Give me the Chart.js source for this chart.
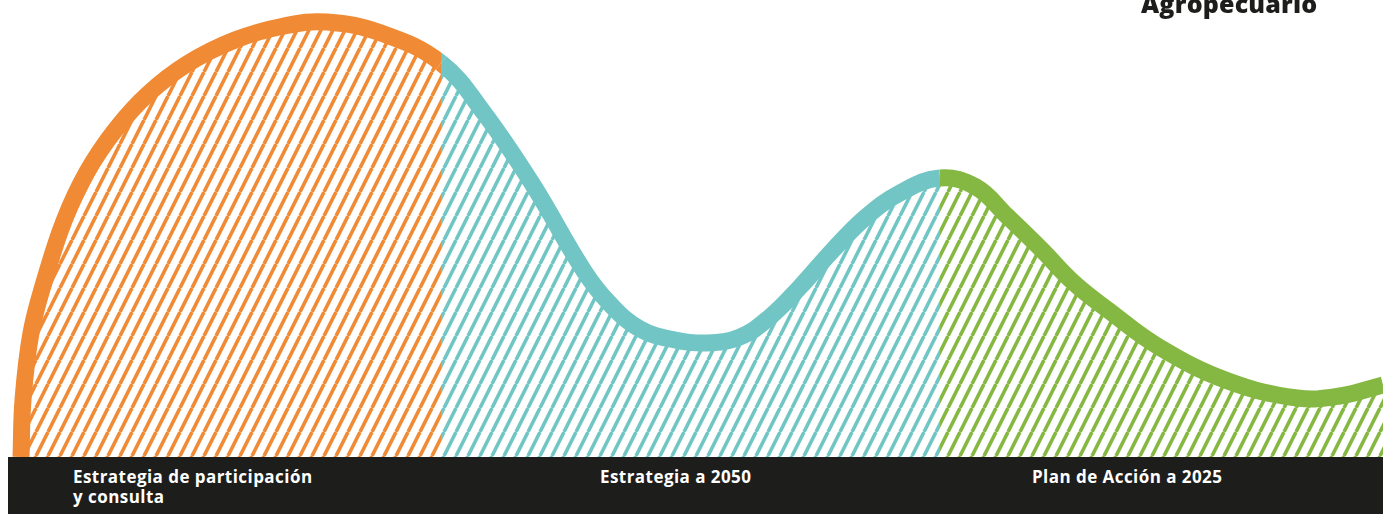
<!DOCTYPE html>
<html lang="es">

<head>
    <meta charset="UTF-8">
    <title>Agropecuario</title>
    <script src="https://cdn.jsdelivr.net/npm/chart.js@4.4.1/dist/chart.umd.min.js"></script>
    <style>
        body { margin: 0; background: #fff; }
        .wrap { position: relative; width: 1383px; height: 514px; overflow: hidden; }
        canvas { position: absolute; left: 0; top: 0; }
        .titulo {
            position: absolute; left: 1141px; top: -14px;
            font-family: "Open Sans", sans-serif; font-weight: 800; font-size: 25px;
            color: #1d1d1b; letter-spacing: 0.2px;
        }
        .barra {
            position: absolute; left: 8px; top: 457px; width: 1375px; height: 57px;
            background: #1d1d1b;
        }
        .etiqueta {
            position: absolute; top: 467px;
            font-family: "Open Sans", sans-serif; font-weight: 700; font-size: 17px;
            letter-spacing: 0.45px; line-height: 20px; color: #fff; white-space: pre;
        }
    </style>
</head>

<body>
    <div class="wrap">
        <canvas id="canvas_grafico" width="1383" height="514"></canvas>
        <div class="titulo">Agropecuario</div>
        <div class="barra"></div>
        <div class="etiqueta" id="et0" style="left:73px"></div>
        <div class="etiqueta" id="et1" style="left:600px"></div>
        <div class="etiqueta" id="et2" style="left:1032px"></div>
    </div>
</body>
</html>
<script>
    // etapas y curva (x a lo largo del eje, y = altura sobre la barra)
    const etapas = ['Estrategia de participación\ny consulta', 'Estrategia a 2050', 'Plan de Acción a 2025'];
    const inicioEtapa = [21, 441, 940];
    const colores = ['#f08a34', '#71c5c4', '#84b842'];

    const curvaX = [21, 23, 31, 45, 64, 87, 116, 148, 187, 235, 284, 327, 381, 441,
        484, 533, 584, 610, 640, 675, 707, 740, 770, 800, 833, 866, 900, 940,
        976, 1007, 1041, 1074, 1108, 1159, 1228, 1297, 1340, 1383];
    const curvaY = [0, 57, 124, 178, 236, 285, 328, 363, 393, 417, 431, 435, 424, 394,
        344, 272, 186, 153, 128, 117, 114, 120, 140, 170, 207, 240, 264, 279,
        270, 241, 208, 174, 147, 110, 76, 59, 61, 72];

    etapas.forEach((t, i) => { document.getElementById('et' + i).textContent = t; });

    function rayado(color) {
        const c = document.createElement('canvas');
        c.width = 12; c.height = 24;
        const g = c.getContext('2d');
        g.fillStyle = '#ffffff';
        g.fillRect(0, 0, 12, 24);
        g.strokeStyle = color;
        g.lineWidth = 3.6;
        for (let k = -1; k <= 1; k++) {
            g.beginPath();
            g.moveTo(k * 12, 24);
            g.lineTo(k * 12 + 12, 0);
            g.stroke();
        }
        return g.createPattern(c, 'repeat');
    }
    const patrones = colores.map(rayado);

    function etapaDe(x) {
        let i = 0;
        while (i + 1 < inicioEtapa.length && x >= inicioEtapa[i + 1]) i++;
        return i;
    }

    function gradienteLinea(context) {
        const chart = context.chart;
        if (!chart.chartArea) return colores[0];
        const sx = chart.scales.x;
        const x0 = sx.getPixelForValue(sx.min), x1 = sx.getPixelForValue(sx.max);
        const grad = chart.ctx.createLinearGradient(x0, 0, x1, 0);
        for (let i = 0; i < colores.length; i++) {
            const a = i === 0 ? 0 : (sx.getPixelForValue(inicioEtapa[i]) - x0) / (x1 - x0);
            const b = i === colores.length - 1 ? 1 : (sx.getPixelForValue(inicioEtapa[i + 1]) - x0) / (x1 - x0);
            grad.addColorStop(a, colores[i]);
            grad.addColorStop(b, colores[i]);
        }
        return grad;
    }

    const puntos = curvaX.map((x, i) => ({ x: x, y: curvaY[i] }));

    const config = {
        type: 'line',
        data: {
            datasets: [{
                data: puntos,
                fill: 'start',
                backgroundColor: patrones[0],
                segment: {
                    backgroundColor: ctx => patrones[etapaDe(ctx.p0.parsed.x)]
                },
                borderColor: gradienteLinea,
                borderWidth: 17,
                tension: 0.4,
                pointRadius: 0,
                clip: false
            }]
        },
        options: {
            responsive: false,
            animation: false,
            layout: { padding: { left: 0, right: 0, top: 0, bottom: 57 } },
            plugins: { legend: { display: false }, tooltip: { enabled: false } },
            scales: {
                x: { type: 'linear', min: 0, max: 1383, display: false },
                y: { min: 0, max: 457, display: false }
            }
        }
    };

    const grafico = new Chart(document.getElementById('canvas_grafico'), config);
</script>
